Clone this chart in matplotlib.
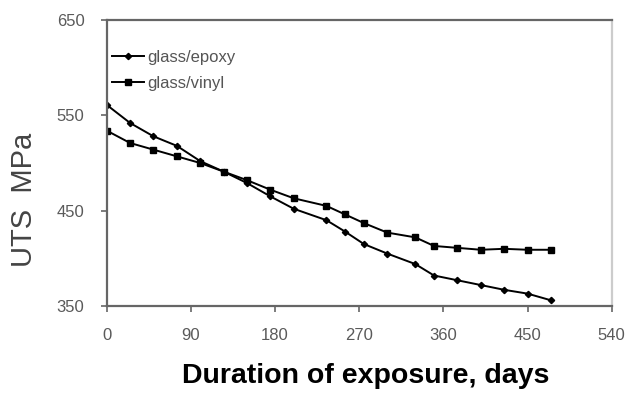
import matplotlib

matplotlib.use("Agg")
import matplotlib.pyplot as plt  # noqa: E402

# exposure time (days) and ultimate tensile strength (MPa)
days = [0, 25, 50, 75, 100, 125, 150, 175, 200, 235,
        255, 275, 300, 330, 350, 375, 400, 425, 450, 475]
uts_epoxy = [561, 542, 528, 518, 502, 491, 479, 465, 452, 440,
             428, 415, 405, 394, 382, 377, 372, 367, 363, 356]
uts_vinyl = [534, 521, 514, 507, 500, 491, 482, 472, 463, 455,
             446, 437, 427, 422, 413, 411, 409, 410, 409, 409]

x_ticks = [0, 90, 180, 270, 360, 450, 540]
y_ticks = [350, 450, 550, 650]

plt.rcParams["font.family"] = ["Liberation Sans", "DejaVu Sans"]

fig = plt.figure(figsize=(6.25, 3.97), dpi=100)
ax = fig.add_axes([0.1707, 0.2292, 0.808, 0.7204])

ax.plot(days, uts_epoxy, color="black", lw=1.4, marker="D", ms=3.2,
        label="glass/epoxy")
ax.plot(days, uts_vinyl, color="black", lw=1.4, marker="s", ms=5,
        label="glass/vinyl")

ax.set_xlim(0, 540)
ax.set_ylim(350, 650)
ax.set_xticks(x_ticks)
ax.set_yticks(y_ticks)
ax.tick_params(direction="out", length=4, width=1.2, colors="#666666",
               labelsize=12, labelcolor="#5a5a5a")
ax.tick_params(axis="y", pad=12)
ax.tick_params(axis="x", pad=12)

for s in ["left", "bottom", "top"]:
    ax.spines[s].set_color("#666666")
    ax.spines[s].set_linewidth(1.6)
ax.spines["right"].set_color("#cccccc")
ax.spines["right"].set_linewidth(1.6)

# y label sits lower than the axes centre in the original
fig.text(24 / 625, 1 - 200 / 397, "UTS  MPa", rotation=90, fontsize=21,
         color="#444444", ha="center", va="center")
ax.set_xlabel("Duration of exposure, days", fontsize=20.5, fontweight="bold",
              color="black", labelpad=12)
ax.xaxis.set_label_coords(0.513, -0.2)

leg = ax.legend(loc="upper left", bbox_to_anchor=(-0.003, 0.92), frameon=False,
                fontsize=12, handlelength=1.95, handletextpad=0.15,
                labelspacing=0.68, borderaxespad=0)
for t in leg.get_texts():
    t.set_color("#555555")

fig.savefig("out.png", dpi=100, facecolor="white")
